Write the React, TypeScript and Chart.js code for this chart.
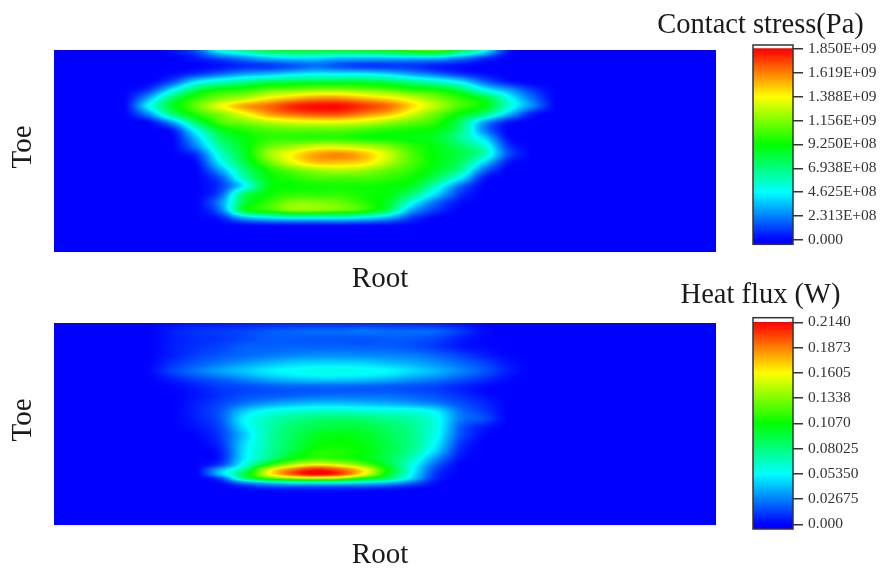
import React, { useEffect, useRef } from "react";
import { Chart, registerables } from "chart.js";

Chart.register(...registerables);

const FONT = "'Liberation Serif', 'Times New Roman', serif";

// Sampling positions, measured in picture units (neither axis has a scale in the source).
const gridColumns = [124, 148, 172, 196, 220, 244, 268, 292, 316, 340, 364, 388, 412, 436, 460, 484, 508, 532, 556];

// Contact stress, in units of 1E+08 Pa
const stressRows = [50, 58, 66, 74, 82, 90, 98, 106, 114, 122, 130, 138, 146, 154, 162, 170, 178, 186, 194, 202, 210, 218, 226];
const stressValues = [
  [0, 0, 0.3, 1.5, 5, 6.5, 8, 8.5, 8.5, 8.5, 8.5, 9, 10, 10.5, 8, 5, 0.5, 0, 0],
  [0, 0, 0, 0.5, 1.5, 2.5, 3.5, 4, 4, 3.5, 3.5, 3.5, 3.5, 3.5, 2.5, 1, 0, 0, 0],
  [0, 0, 0, 0, 0.3, 0.8, 1, 1.5, 2, 1.5, 1, 1, 1, 0.5, 0.2, 0, 0, 0, 0],
  [0, 0, 0.2, 1, 2, 3, 3.5, 4.2, 4.6, 4.6, 4.6, 4, 3, 2, 1, 0.3, 0, 0, 0],
  [0, 0, 1.5, 4.5, 6, 7, 8, 8.3, 8.5, 8.5, 8.5, 8, 7, 6, 4.5, 2, 0.5, 0, 0],
  [0, 1, 4.5, 8, 9.5, 10, 11, 11.5, 12, 12, 11.5, 11, 10, 9.5, 8, 5, 3, 1, 0],
  [0, 3, 7.5, 10, 11.5, 12.5, 14, 15, 15.8, 15.8, 15, 14.2, 13, 11.5, 10, 8.5, 5, 2, 0],
  [0, 4.5, 8.5, 11, 13.5, 15.5, 16.5, 17.8, 18.3, 18.3, 17.5, 16.5, 14.5, 12.5, 10.5, 9, 5.5, 2.5, 0],
  [0, 2.5, 7, 9.8, 11.5, 13.5, 15.5, 16.5, 17, 17, 16, 15, 13, 11, 9, 7, 3.5, 0.5, 0],
  [0, 0.2, 3, 7.5, 10.5, 11.5, 12.5, 13.2, 13.5, 13.5, 13, 12, 11, 10, 7.5, 3, 0.5, 0, 0],
  [0, 0, 0.5, 5, 8.5, 9.8, 10.5, 10.8, 10.8, 10.8, 10.3, 9.8, 9.5, 9, 7, 2.5, 0, 0, 0],
  [0, 0, 0, 3.5, 7.5, 9, 10, 10, 10, 10, 9.5, 9.3, 9, 8.5, 6.5, 4, 0.3, 0, 0],
  [0, 0, 0, 2.5, 6.5, 8.8, 11, 12, 13, 13, 12.5, 11.5, 10, 9, 7.5, 5.5, 1, 0, 0],
  [0, 0, 0, 1, 5.5, 8.5, 12, 14, 15.5, 16, 15, 13, 10.5, 9, 8, 6, 1.5, 0, 0],
  [0, 0, 0, 0.3, 4.5, 8, 11, 13.5, 15, 15, 14.5, 12.5, 10.5, 9, 7.5, 4, 0.5, 0, 0],
  [0, 0, 0, 0, 3, 7, 9.5, 11, 12, 12.5, 12, 11, 10, 8.5, 6.5, 2, 0, 0, 0],
  [0, 0, 0, 0, 1.5, 6, 9, 9.8, 10.5, 10.5, 10.5, 10, 9.3, 7.5, 4.5, 0.5, 0, 0, 0],
  [0, 0, 0, 0, 1, 4.5, 8.8, 9.3, 9.5, 9.6, 9.5, 9.3, 8.5, 5.5, 2, 0, 0, 0, 0],
  [0, 0, 0, 0, 1.5, 7.5, 9.3, 10, 10, 10, 9.5, 9, 7, 4, 1, 0, 0, 0, 0],
  [0, 0, 0, 0, 2.5, 8, 10, 11.5, 11.5, 11, 9.8, 8.5, 5, 2, 0.3, 0, 0, 0, 0],
  [0, 0, 0, 0, 2, 8.5, 10, 11.5, 11.5, 11, 10, 7.5, 3, 1, 0, 0, 0, 0, 0],
  [0, 0, 0, 0, 0.5, 3, 4, 4.5, 4.5, 4.5, 4, 3, 1, 0, 0, 0, 0, 0, 0],
  [0, 0, 0, 0, 0, 0, 0, 0, 0, 0, 0, 0, 0, 0, 0, 0, 0, 0, 0],
];

// Heat flux, in units of 1E-03 W
const fluxRows = [323, 331, 339, 347, 355, 363, 371, 379, 387, 395, 403, 411, 419, 427, 435, 443, 451, 459, 465, 469, 474, 478, 483, 489, 497];
const fluxValues = [
  [0, 0, 2, 4, 5, 6, 7, 8, 8, 8, 8, 8, 7, 6, 3, 0, 0, 0, 0],
  [0, 0, 6, 10, 12, 14, 18, 20, 22, 22, 24, 22, 22, 20, 12, 2, 0, 0, 0],
  [0, 0, 5, 9, 11, 15, 19, 19, 18, 18, 17, 19, 18, 14, 6, 1, 0, 0, 0],
  [0, 0, 6, 10, 14, 20, 20, 21, 21, 21, 20, 20, 17, 12, 5, 2, 0, 0, 0],
  [0, 0, 6, 13, 18, 22, 25, 28, 30, 30, 29, 28, 26, 21, 14, 6, 1, 0, 0],
  [0, 0, 10, 18, 25, 32, 38, 43, 45, 45, 44, 40, 36, 30, 22, 14, 4, 0, 0],
  [0, 1, 14, 24, 34, 42, 50, 55, 58, 58, 56, 53, 46, 38, 28, 18, 6, 0, 0],
  [0, 0, 6, 14, 20, 28, 36, 41, 44, 44, 42, 38, 32, 26, 18, 10, 2, 0, 0],
  [0, 0, 1, 6, 12, 15, 18, 20, 20, 20, 19, 18, 16, 13, 7, 2, 0, 0, 0],
  [0, 0, 0, 4, 10, 16, 18, 20, 22, 23, 23, 23, 20, 16, 10, 3, 0, 0, 0],
  [0, 0, 0, 6, 14, 24, 32, 37, 40, 40, 38, 36, 32, 26, 16, 8, 0, 0, 0],
  [0, 0, 0, 7, 18, 42, 56, 62, 66, 66, 64, 62, 60, 50, 24, 12, 0, 0, 0],
  [0, 0, 0, 6, 18, 52, 68, 78, 84, 86, 84, 78, 72, 58, 26, 16, 0, 0, 0],
  [0, 0, 0, 4, 15, 48, 70, 84, 92, 96, 94, 86, 76, 58, 20, 5, 0, 0, 0],
  [0, 0, 0, 1, 12, 42, 72, 88, 100, 104, 100, 90, 78, 56, 18, 2, 0, 0, 0],
  [0, 0, 0, 0, 10, 46, 72, 90, 104, 108, 104, 92, 78, 52, 12, 0, 0, 0, 0],
  [0, 0, 0, 0, 6, 48, 74, 94, 112, 112, 106, 92, 76, 44, 8, 0, 0, 0, 0],
  [0, 0, 0, 0, 6, 50, 80, 108, 120, 116, 106, 90, 66, 30, 4, 0, 0, 0, 0],
  [0, 0, 0, 0, 14, 60, 112, 148, 165, 155, 130, 96, 58, 20, 0, 0, 0, 0, 0],
  [0, 0, 0, 0, 36, 76, 150, 185, 205, 190, 160, 105, 56, 14, 0, 0, 0, 0, 0],
  [0, 0, 0, 0, 42, 92, 155, 196, 214, 200, 158, 100, 52, 10, 0, 0, 0, 0, 0],
  [0, 0, 0, 0, 16, 80, 120, 140, 148, 140, 110, 85, 46, 8, 0, 0, 0, 0, 0],
  [0, 0, 0, 0, 2, 24, 40, 48, 50, 48, 44, 36, 20, 2, 0, 0, 0, 0, 0],
  [0, 0, 0, 0, 0, 2, 5, 6, 6, 6, 5, 4, 1, 0, 0, 0, 0, 0, 0],
  [0, 0, 0, 0, 0, 0, 0, 0, 0, 0, 0, 0, 0, 0, 0, 0, 0, 0, 0],
];

const stressTickValues = [0, 2.313e8, 4.625e8, 6.938e8, 9.25e8, 1.156e9, 1.388e9, 1.619e9, 1.85e9];
const stressTickLabels = ["0.000", "2.313E+08", "4.625E+08", "6.938E+08", "9.250E+08", "1.156E+09", "1.388E+09", "1.619E+09", "1.850E+09"];
const fluxTickValues = [0, 0.02675, 0.0535, 0.08025, 0.107, 0.1338, 0.1605, 0.1873, 0.214];
const fluxTickLabels = ["0.000", "0.02675", "0.05350", "0.08025", "0.1070", "0.1338", "0.1605", "0.1873", "0.2140"];

const colorStops: [number, number[]][] = [
  [0, [0, 0, 255]],
  [0.25, [0, 255, 255]],
  [0.5, [0, 255, 0]],
  [0.75, [255, 255, 0]],
  [1, [255, 0, 0]],
];

function colorAt(t: number): number[] {
  const v = Math.max(0, Math.min(1, t));
  for (let i = 1; i < colorStops.length; i++) {
    const [p1, c1] = colorStops[i];
    const [p0, c0] = colorStops[i - 1];
    if (v <= p1) {
      const f = (v - p0) / (p1 - p0);
      return c0.map((c, k) => c + (c1[k] - c) * f);
    }
  }
  return colorStops[colorStops.length - 1][1];
}

function fractionalIndex(axis: number[], value: number): number {
  if (value <= axis[0]) return 0;
  for (let i = 1; i < axis.length; i++) {
    if (value <= axis[i]) return i - 1 + (value - axis[i - 1]) / (axis[i] - axis[i - 1]);
  }
  return axis.length - 1;
}

function cubic(a: number, b: number, c: number, d: number, t: number): number {
  return b + 0.5 * t * (c - a + t * (2 * a - 5 * b + 4 * c - d + t * (3 * (b - c) + d - a)));
}

const heatPlugin = {
  id: "heat",
  beforeDatasetsDraw(chart: any, _a: any, opts: any) {
    const { columns, rows, values, maxValue, x0, x1, y0, y1 } = opts;
    if (!columns) return;
    const sx = chart.scales.x;
    const sy = chart.scales.y;
    const left = Math.round(sx.getPixelForValue(x0));
    const right = Math.round(sx.getPixelForValue(x1));
    const top = Math.round(sy.getPixelForValue(y0));
    const bottom = Math.round(sy.getPixelForValue(y1));
    const w = right - left;
    const h = bottom - top;
    const off = document.createElement("canvas");
    off.width = w;
    off.height = h;
    const octx = off.getContext("2d")!;
    const img = octx.createImageData(w, h);
    const at = (r: number, c: number) => {
      const rr = Math.max(0, Math.min(rows.length - 1, r));
      const cc = Math.max(0, Math.min(columns.length - 1, c));
      return values[rr][cc];
    };
    const colIdx: number[] = [];
    for (let px = 0; px < w; px++) colIdx.push(fractionalIndex(columns, sx.getValueForPixel(left + px + 0.5)));
    for (let py = 0; py < h; py++) {
      const fr = fractionalIndex(rows, sy.getValueForPixel(top + py + 0.5));
      const r = Math.floor(fr);
      const tr = fr - r;
      for (let px = 0; px < w; px++) {
        const fc = colIdx[px];
        const c = Math.floor(fc);
        const tc = fc - c;
        const col = [-1, 0, 1, 2].map((dr) =>
          cubic(at(r + dr, c - 1), at(r + dr, c), at(r + dr, c + 1), at(r + dr, c + 2), tc)
        );
        const v = cubic(col[0], col[1], col[2], col[3], tr);
        const rgb = colorAt(v / maxValue);
        const k = (py * w + px) * 4;
        img.data[k] = rgb[0];
        img.data[k + 1] = rgb[1];
        img.data[k + 2] = rgb[2];
        img.data[k + 3] = 255;
      }
    }
    octx.putImageData(img, 0, 0);
    chart.ctx.drawImage(off, left, top);
  },
};

const framePlugin = {
  id: "frame",
  afterDatasetsDraw(chart: any) {
    const { left, top, width, height } = chart.chartArea;
    const ctx = chart.ctx;
    ctx.save();
    ctx.strokeStyle = "#333333";
    ctx.lineWidth = 1.5;
    ctx.strokeRect(left, top, width, height);
    ctx.restore();
  },
};

function heatConfig(p: any) {
  const points: any[] = [];
  p.rows.forEach((y: number, r: number) =>
    p.columns.forEach((x: number, c: number) => points.push({ x, y, v: p.values[r][c] }))
  );
  return {
    type: "scatter",
    data: { datasets: [{ label: p.name, data: points, pointRadius: 0, showLine: false }] },
    plugins: [heatPlugin],
    options: {
      animation: false,
      responsive: false,
      events: [],
      layout: { padding: { top: p.padTop, right: p.padRight, left: 0, bottom: 0 } },
      plugins: {
        legend: { display: false },
        tooltip: { enabled: false },
        heat: {
          columns: p.columns,
          rows: p.rows,
          values: p.values,
          maxValue: p.maxValue,
          x0: 54,
          x1: 716,
          y0: p.y0,
          y1: p.y1,
        },
      },
      scales: {
        x: {
          type: "linear",
          min: 44,
          max: 716,
          grid: { display: false },
          border: { display: false },
          ticks: { display: false },
          title: {
            display: true,
            text: "Root",
            color: "#1a1a1a",
            font: { family: FONT, size: 29, lineHeight: 1.2 },
            padding: { top: 0, bottom: p.rootPad },
          },
          afterFit: (s: any) => {
            s.height = p.xHeight;
            s.paddingLeft = 0;
            s.paddingRight = 0;
          },
        },
        y: {
          type: "linear",
          reverse: true,
          min: p.yMin,
          max: p.yMax,
          grid: { display: false },
          border: { display: false },
          ticks: { display: false },
          title: {
            display: true,
            text: "Toe",
            color: "#1a1a1a",
            font: { family: FONT, size: 29, lineHeight: 1.2 },
            padding: { top: 6, bottom: 0 },
          },
          afterFit: (s: any) => {
            s.width = 44;
            s.paddingTop = 0;
            s.paddingBottom = 0;
          },
        },
      },
    },
  };
}

function barConfig(p: any) {
  return {
    type: "bar",
    data: {
      labels: [p.title],
      datasets: [
        {
          label: p.title,
          yAxisID: "y",
          data: [[p.axisMin, p.top]],
          barPercentage: 1,
          categoryPercentage: 1,
          backgroundColor: (ctx: any) => {
            const y = ctx.chart.scales.y;
            if (!ctx.chart.chartArea || !y) return "#0000ff";
            const g = ctx.chart.ctx.createLinearGradient(0, y.getPixelForValue(0), 0, y.getPixelForValue(p.top));
            colorStops.forEach(([pos, c]) => g.addColorStop(pos, `rgb(${c[0]},${c[1]},${c[2]})`));
            return g;
          },
        },
      ],
    },
    plugins: [framePlugin],
    options: {
      animation: false,
      responsive: false,
      events: [],
      layout: { padding: { left: 0, right: 0, top: 0, bottom: p.padBottom } },
      plugins: {
        legend: { display: false },
        tooltip: { enabled: false },
        title: {
          display: true,
          text: p.title,
          color: "#1a1a1a",
          font: { family: FONT, size: 28.5, weight: "normal", lineHeight: 1.2 },
          padding: { top: p.titleTop, bottom: p.titleBottom },
        },
      },
      scales: {
        x: { display: false },
        gutter: {
          type: "linear",
          position: "left",
          grid: { display: false },
          border: { display: false },
          ticks: { display: false },
          afterFit: (s: any) => {
            s.width = 113;
            s.paddingTop = 0;
            s.paddingBottom = 0;
          },
        },
        y: {
          position: "right",
          min: p.axisMin,
          max: p.axisMax,
          grid: { drawOnChartArea: false, drawTicks: true, tickLength: 10, color: "#333333", lineWidth: 1.5 },
          border: { display: false },
          ticks: {
            autoSkip: false,
            padding: 5,
            color: "#333333",
            font: { family: FONT, size: 15.5 },
            callback: (_v: any, i: number) => p.labels[i],
          },
          afterBuildTicks: (s: any) => {
            s.ticks = p.values.map((value: number) => ({ value }));
          },
          afterFit: (s: any) => {
            s.width = 88;
            s.paddingTop = 0;
            s.paddingBottom = 0;
          },
        },
      },
    },
  };
}

const layers: any[] = [
  {
    left: 0, top: 0, width: 720, height: 300,
    config: () =>
      heatConfig({
        name: "Contact stress", columns: gridColumns, rows: stressRows, values: stressValues, maxValue: 18.5,
        y0: 50, y1: 252, yMin: 42, yMax: 252, padTop: 42, padRight: 4, xHeight: 48, rootPad: 3,
      }),
  },
  {
    left: 0, top: 290, width: 720, height: 281,
    config: () =>
      heatConfig({
        name: "Heat flux", columns: gridColumns, rows: fluxRows, values: fluxValues, maxValue: 214,
        y0: 323, y1: 525, yMin: 315, yMax: 525, padTop: 25, padRight: 4, xHeight: 46, rootPad: -2,
      }),
  },
  {
    left: 640, top: 0, width: 241, height: 260,
    config: () =>
      barConfig({
        title: "Contact stress(Pa)", values: stressTickValues, labels: stressTickLabels,
        top: 1.85e9, axisMin: -4.16e7, axisMax: 1.8858e9, padBottom: 15.7, titleTop: 8, titleBottom: 2.8,
      }),
  },
  {
    left: 640, top: 275, width: 241, height: 270,
    config: () =>
      barConfig({
        title: "Heat flux (W)", values: fluxTickValues, labels: fluxTickLabels,
        top: 0.214, axisMin: -0.00498, axisMax: 0.21887, padBottom: 16, titleTop: 3, titleBottom: 5.5,
      }),
  },
];

export default function App() {
  const refs = useRef<(HTMLCanvasElement | null)[]>([]);

  useEffect(() => {
    const charts = layers.map((l, i) => new Chart(refs.current[i]!, l.config()));
    return () => charts.forEach((c) => c.destroy());
  }, []);

  return (
    <div style={{ position: "fixed", left: 0, top: 0, width: 881, height: 571, background: "#fff", overflow: "hidden" }}>
      {layers.map((l, i) => (
        <canvas
          key={i}
          ref={(el) => {
            refs.current[i] = el;
          }}
          width={l.width}
          height={l.height}
          style={{ position: "absolute", left: l.left, top: l.top, width: l.width, height: l.height }}
        />
      ))}
    </div>
  );
}
